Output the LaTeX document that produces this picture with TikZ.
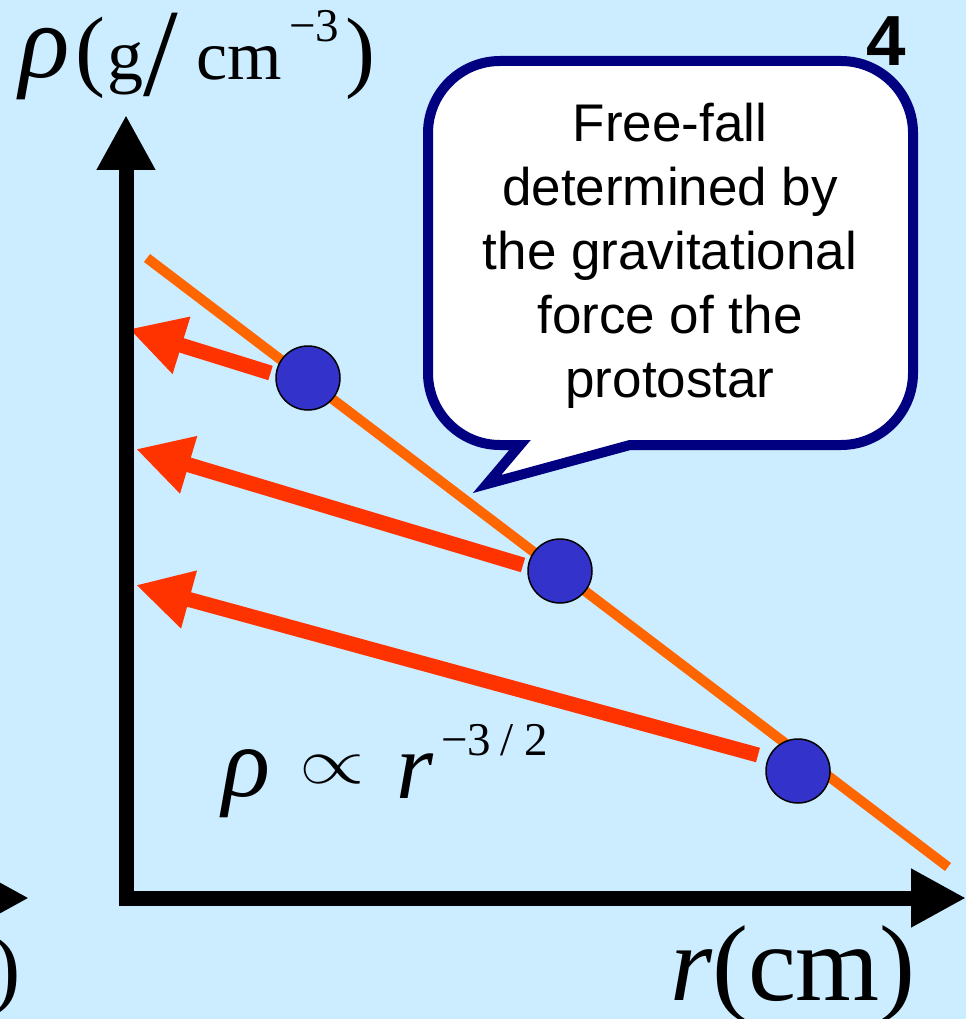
\documentclass[tikz,border=0pt]{standalone}
\usepackage{fontspec}
\usepackage{graphicx}
\setmainfont{Liberation Serif}
\newfontfamily\sansfam{Liberation Sans}
\usetikzlibrary{arrows.meta}
\definecolor{bg}{RGB}{204,236,255}
\definecolor{dotblue}{RGB}{51,51,204}
\definecolor{arrred}{RGB}{255,51,0}
\definecolor{lineorange}{RGB}{255,102,0}
\definecolor{navyb}{RGB}{0,0,128}
\tikzset{
  axisline/.style={line width=15pt, line join=miter, -{Triangle[length=55pt,width=55pt]}},
  axispair/.style={line width=15pt, line join=miter, {Triangle[length=55pt,width=55pt]}-{Triangle[length=55pt,width=55pt]}},
  flowarrow/.style={arrred, line width=15pt, -{Triangle[length=55pt,width=56pt]}},
  fitline/.style={lineorange, line width=10pt},
  blob/.style={circle, fill=dotblue, draw=black, line width=1.5pt, minimum size=64pt, inner sep=0pt},
  bubble/.style={draw=navyb, fill=white, line width=10pt, line join=miter},
  glyph/.style={inner sep=0pt, outer sep=0pt},
}
\newcommand{\fsz}[1]{\fontsize{#1pt}{#1pt}\selectfont}
\begin{document}
\begin{tikzpicture}[x=1pt,y=1pt]
\useasboundingbox (0,0) rectangle (966,-1019);
\clip (0,0) rectangle (966,-1019);
\fill[bg] (0,0) rectangle (966,-1019);

% slide number
\node[glyph, anchor=base, font=\sansfam\bfseries\fsz{71}] (num) at (886,-66) {4};

% speech bubble
\draw[bubble] (500,-61) -- (841,-61) arc[start angle=90,end angle=0,radius=72]
  -- (913,-373) arc[start angle=0,end angle=-90,radius=72]
  -- (630,-445) -- (487,-484) -- (520,-445)
  -- (500,-445) arc[start angle=270,end angle=180,radius=72]
  -- (428,-133) arc[start angle=180,end angle=90,radius=72] -- cycle;
\node[glyph, align=center, font=\sansfam\fontsize{53pt}{64pt}\selectfont] (note) at (670,-256)
  {Free-fall\\determined by\\the gravitational\\force of the\\protostar};

% coordinates
\coordinate (a1s) at (270.5,-373);
\coordinate (a1t) at (129,-329);
\coordinate (a2s) at (523,-565);
\coordinate (a2t) at (136,-449);
\coordinate (a3s) at (758,-755);
\coordinate (a3t) at (136,-585);
\coordinate (fitA) at (147,-258);
\coordinate (fitB) at (948,-867);

% red arrows
\draw[flowarrow] (a1s) -- (a1t);
\draw[flowarrow] (a2s) -- (a2t);
\draw[flowarrow] (a3s) -- (a3t);

% orange line
\draw[fitline] (fitA) -- (fitB);

% dots
\node[blob] (d1) at (308,-378) {};
\node[blob] (d2) at (560,-571) {};
\node[blob] (d3) at (798,-771) {};

% axes
\coordinate (ytip) at (126,-115);
\coordinate (origin) at (126,-898);
\coordinate (xtip) at (966,-898);
\draw[axispair] (ytip) -- (origin) -- (xtip);
\coordinate (prevtail) at (-200,-898);
\coordinate (prevtip) at (29,-898);
\draw[axisline] (prevtail) -- (prevtip);

% y label
\node[glyph, font=\fsz{105}\itshape] (yrho) at (45,-64) {ρ};
\node[glyph, font=\fsz{90}] (ylp) at (90,-57.5) {(};
\node[glyph, anchor=base, font=\fsz{72}] (yg) at (125.5,-80) {g};
\node[glyph, font=\fsz{125}] (yslash) at (161,-55) {/};
\node[glyph, anchor=base, font=\fsz{70}] (ycm) at (239.5,-80) {cm};
\node[glyph, anchor=base west, font=\fsz{47}] (yexp) at (289,-42) {−3};
\node[glyph, font=\fsz{90}] (yrp) at (360,-58.5) {)};

% x label
\node[glyph, anchor=base west, font=\fsz{108}] (xlab) at (670,-1000) {\itshape r\upshape(cm)};
\node[glyph, anchor=base east, font=\fsz{88}] (prevlab) at (21,-997) {)};

% relation
\node[glyph, font=\fsz{100}\itshape] (rrho) at (246,-784) {ρ};
\node[glyph] (prop) at (332.5,-769) {\scalebox{8.4}[6.5]{$\propto$}};
\node[glyph, anchor=base, font=\fsz{95}\itshape] (rr) at (415,-798) {r};
\node[glyph, anchor=base west, font=\fsz{47}] (rexp) at (441,-755) {−3\kern10pt/\kern10pt2};
\end{tikzpicture}
\end{document}
